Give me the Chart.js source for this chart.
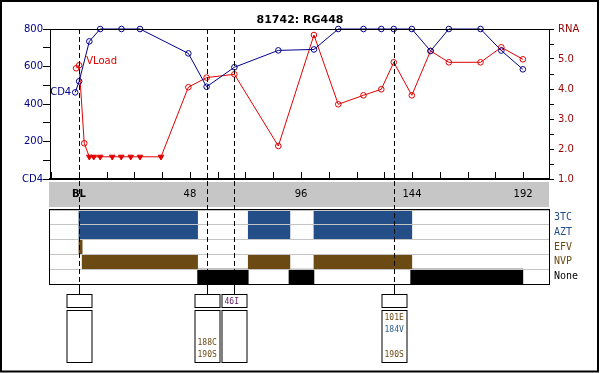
<!DOCTYPE html>
<html>
<head>
<meta charset="utf-8">
<script src="https://cdn.jsdelivr.net/npm/chart.js@4.4.0/dist/chart.umd.min.js"></script>
<style>
  html, body { margin: 0; padding: 0; background: #fff; }
  #wrap { position: relative; width: 600px; height: 373px; }
  #wrap canvas { position: absolute; left: 0; top: 0; }
</style>
</head>
<body>
<div id="wrap">
  <canvas id="rxChart" width="600" height="373"></canvas>
  <canvas id="labChart" width="600" height="373"></canvas>
</div>
<script>
const chartTitle = '81742: RG448';

// CD4 count by study week (values above 800 sit on the top line)
const cd4Weeks = [-1.6, 0.1, 4.5, 9.2, 18.4, 26.4, 47.3, 55.2, 67.2, 86.2, 101.6, 112.1, 123, 130.7, 136.1, 143.9, 152, 159.9, 173.6, 182.6, 191.9];
const cd4Counts = [462, 521, 734, 800, 800, 800, 670, 492, 596, 686, 691, 800, 800, 800, 800, 800, 683, 800, 800, 685, 585];

// viral load, log10 copies/ml
const rnaWeeks = [-1.2, 0.1, 2.3, 4.5, 6.4, 9.2, 14.4, 18.3, 22.4, 26.4, 35.5, 47.3, 55.2, 67.2, 86.2, 101.6, 112.1, 123, 130.7, 136.1, 143.9, 152, 159.9, 173.6, 182.6, 191.9];
const rnaLogs = [4.69, 4.79, 2.19, 1.74, 1.74, 1.74, 1.74, 1.74, 1.74, 1.74, 1.74, 4.06, 4.38, 4.49, 2.10, 5.80, 3.49, 3.79, 3.99, 4.89, 3.79, 5.27, 4.89, 4.89, 5.39, 4.99];
const rnaBelowLimit = [false, false, false, true, true, true, true, true, true, true, true, false, false, false, false, false, false, false, false, false, false, false, false, false, false, false];

// axis ticks
const weekTicks = [-12, 0, 12, 24, 36, 48, 60, 72, 84, 96, 108, 120, 132, 144, 156, 168, 180, 192];
const weekLabels = { 0: 'BL', 48: '48', 96: '96', 144: '144', 192: '192' };
const cd4Ticks = [0, 100, 200, 300, 400, 500, 600, 700, 800];
const cd4Labels = { 0: 'CD4', 200: '200', 400: '400', 600: '600', 800: '800' };
const rnaTicks = [1, 1.5, 2, 2.5, 3, 3.5, 4, 4.5, 5, 5.5, 6];
const rnaLabels = { 1: '1.0', 2: '2.0', 3: '3.0', 4: '4.0', 5: '5.0', 6: 'RNA' };

// treatment periods, [start week, stop week]
const drugs = ['3TC', 'AZT', 'EFV', 'NVP', 'None'];
const rx3TC = [[0, 51.3], [73.2, 91.2], [101.6, 143.9]];
const rxAZT = [[0, 51.3], [73.2, 91.2], [101.6, 143.9]];
const rxEFV = [[0, 1.4]];
const rxNVP = [[1.4, 51.3], [73.2, 91.2], [101.6, 143.9]];
const rxNone = [[51.3, 73.2], [90.8, 101.6], [143.4, 191.9]];

// genotypes: week, PI mutations, RT mutations (one per line slot)
const genoWeeks = [0, 55.2, 67.2, 136.1];
const genoPI = ['', '', '46I', ''];
const genoRT = [['', '', '', ''], ['', '', '188C', '190S'], ['', '', '', ''], ['101E', '184V', '', '190S']];
const nrtiMuts = ['184V'];

const NAVY = '#00008b';
const RED = '#e00000';
const MAROON = '#990000';
const RX_BLUE = '#234e87';
const RX_BROWN = '#6b4a14';
const SANS = '"DejaVu Sans", sans-serif';
const MONO = '"DejaVu Sans Mono", monospace';
const X_MIN = -12.5, X_MAX = 203.2;

const periods = (list, drug) => list.map(p => ({ x: p, y: drug }));

// treatment panel (lower canvas)
const rxFrame = {
  id: 'rxFrame',
  afterDraw(chart) {
    const { ctx, chartArea: a } = chart;
    ctx.save();
    ctx.strokeStyle = '#000';
    ctx.lineWidth = 1;
    ctx.strokeRect(a.left - 0.5, a.top - 0.5, a.right - a.left + 1, a.bottom - a.top + 1);
    ctx.restore();
  }
};

new Chart(document.getElementById('rxChart'), {
  type: 'bar',
  data: {
    labels: drugs,
    datasets: [
      { data: periods(rx3TC, '3TC').concat(periods(rxAZT, 'AZT')), backgroundColor: RX_BLUE },
      { data: periods(rxEFV, 'EFV').concat(periods(rxNVP, 'NVP')), backgroundColor: RX_BROWN },
      { data: periods(rxNone, 'None'), backgroundColor: '#000' }
    ]
  },
  options: {
    indexAxis: 'y',
    responsive: false,
    animation: false,
    devicePixelRatio: 1,
    grouped: false,
    barPercentage: 1,
    categoryPercentage: 1,
    layout: { padding: { left: 50, top: 210, bottom: 89, right: 0 } },
    plugins: { legend: { display: false }, tooltip: { enabled: false } },
    scales: {
      x: { type: 'linear', min: X_MIN, max: X_MAX, display: false },
      y: {
        type: 'category',
        position: 'right',
        afterFit: s => { s.width = 51; },
        grid: { color: '#c4c4c4', drawTicks: false, offset: true, z: 1 },
        border: { display: false },
        ticks: {
          autoSkip: false,
          padding: 5,
          font: { family: MONO, size: 10 },
          color: c => [RX_BLUE, RX_BLUE, RX_BROWN, RX_BROWN, '#000'][c.index]
        }
      }
    }
  },
  plugins: [rxFrame]
});

// lab values, axes, genotype markers (upper canvas)
const labDecor = {
  id: 'labDecor',
  beforeDraw(chart) {
    const { ctx, chartArea: a } = chart;
    ctx.save();
    ctx.fillStyle = '#c6c6c6';
    ctx.fillRect(a.left - 1, 182, a.right - a.left + 1, 25);
    ctx.fillStyle = '#000';
    ctx.font = 'bold 11px ' + SANS;
    ctx.textAlign = 'center';
    ctx.textBaseline = 'middle';
    ctx.fillText(chartTitle, 300, 20);
    ctx.restore();
  },
  afterDraw(chart) {
    const { ctx, chartArea: a } = chart;
    const xs = chart.scales.x;
    ctx.save();
    ctx.strokeStyle = '#000';
    // outer frame
    ctx.lineWidth = 2;
    ctx.strokeRect(1, 1, 597, 370.5);
    ctx.lineWidth = 1;
    // top border of plot
    ctx.beginPath();
    ctx.moveTo(a.left, a.top + 0.5);
    ctx.lineTo(a.right, a.top + 0.5);
    ctx.stroke();
    // week ticks pointing up
    ctx.beginPath();
    xs.ticks.forEach(t => {
      const px = Math.round(xs.getPixelForValue(t.value)) + 0.5;
      ctx.moveTo(px, a.bottom);
      ctx.lineTo(px, a.bottom - 7);
    });
    ctx.stroke();
    // genotype lines and boxes
    genoWeeks.forEach((w, i) => {
      const cx = Math.round(xs.getPixelForValue(w)) + 0.5;
      ctx.setLineDash([5, 3]);
      ctx.beginPath();
      ctx.moveTo(cx, a.top);
      ctx.lineTo(cx, 285);
      ctx.stroke();
      ctx.setLineDash([]);
      ctx.beginPath();
      ctx.moveTo(cx, 285);
      ctx.lineTo(cx, 294);
      ctx.stroke();
      ctx.strokeRect(cx - 12.5, 294.5, 25, 13);
      ctx.strokeRect(cx - 12.5, 310.5, 25, 52);
      ctx.font = '8px ' + MONO;
      ctx.textAlign = 'left';
      ctx.textBaseline = 'middle';
      if (genoPI[i]) {
        ctx.fillStyle = '#662266';
        ctx.fillText(genoPI[i], cx - 10, 301.5);
      }
      genoRT[i].forEach((m, k) => {
        if (!m) return;
        ctx.fillStyle = nrtiMuts.includes(m) ? '#2d5c8c' : RX_BROWN;
        ctx.fillText(m, cx - 10, 318 + k * 12.3);
      });
    });
    // series names beside the first points
    const cd4First = chart.getDatasetMeta(0).data[0];
    const rnaSecond = chart.getDatasetMeta(1).data[1];
    ctx.font = '10px ' + SANS;
    ctx.textBaseline = 'middle';
    ctx.fillStyle = NAVY;
    ctx.textAlign = 'right';
    ctx.fillText('CD4', cd4First.x - 4, cd4First.y);
    ctx.fillStyle = RED;
    ctx.textAlign = 'left';
    ctx.fillText('VLoad', rnaSecond.x + 7, rnaSecond.y - 4);
    ctx.restore();
  }
};

new Chart(document.getElementById('labChart'), {
  type: 'line',
  data: {
    datasets: [
      {
        label: 'CD4',
        data: cd4Weeks.map((w, i) => ({ x: w, y: cd4Counts[i] })),
        yAxisID: 'cd4',
        borderColor: NAVY,
        borderWidth: 1,
        pointStyle: 'circle',
        pointRadius: 2.8,
        pointBorderWidth: 1,
        pointBorderColor: NAVY,
        pointBackgroundColor: 'rgba(0,0,0,0)',
        clip: false
      },
      {
        label: 'VLoad',
        data: rnaWeeks.map((w, i) => ({ x: w, y: rnaLogs[i] })),
        yAxisID: 'rna',
        borderColor: RED,
        borderWidth: 1,
        pointStyle: rnaBelowLimit.map(b => b ? 'triangle' : 'circle'),
        pointRotation: rnaBelowLimit.map(b => b ? 180 : 0),
        pointRadius: rnaBelowLimit.map(b => b ? 3.2 : 2.8),
        pointBorderWidth: 1,
        pointBorderColor: RED,
        pointBackgroundColor: rnaBelowLimit.map(b => b ? RED : 'rgba(0,0,0,0)'),
        clip: false
      }
    ]
  },
  options: {
    responsive: false,
    animation: false,
    devicePixelRatio: 1,
    layout: { padding: { top: 29, left: 0, right: 0, bottom: 0 } },
    plugins: { legend: { display: false }, tooltip: { enabled: false } },
    scales: {
      x: {
        type: 'linear',
        min: X_MIN,
        max: X_MAX,
        afterBuildTicks: s => { s.ticks = weekTicks.map(v => ({ value: v })); },
        afterFit: s => { s.height = 194; },
        grid: { drawOnChartArea: false, drawTicks: false },
        border: { color: '#000', width: 2 },
        ticks: {
          autoSkip: false,
          maxRotation: 0,
          padding: 9,
          color: '#000',
          font: c => ({ family: SANS, size: 10, weight: c.tick && c.tick.value === 0 ? 'bold' : 'normal' }),
          callback: v => weekLabels[v] || ''
        }
      },
      cd4: {
        type: 'linear',
        position: 'left',
        min: 0,
        max: 800,
        afterBuildTicks: s => { s.ticks = cd4Ticks.map(v => ({ value: v })); },
        afterFit: s => { s.width = 50; },
        grid: { drawOnChartArea: false, tickLength: 7, color: '#000' },
        border: { color: '#000' },
        ticks: { autoSkip: false, padding: 0, color: NAVY, font: { family: SANS, size: 10 }, callback: v => cd4Labels[v] || '' }
      },
      rna: {
        type: 'linear',
        position: 'right',
        min: 1,
        max: 6,
        afterBuildTicks: s => { s.ticks = rnaTicks.map(v => ({ value: v })); },
        afterFit: s => { s.width = 51; },
        grid: { drawOnChartArea: false, tickLength: 5, color: '#000' },
        border: { color: '#000' },
        ticks: { autoSkip: false, padding: 4, color: MAROON, font: { family: SANS, size: 10 }, callback: v => rnaLabels[v] || '' }
      }
    }
  },
  plugins: [labDecor]
});
</script>
</body>
</html>
